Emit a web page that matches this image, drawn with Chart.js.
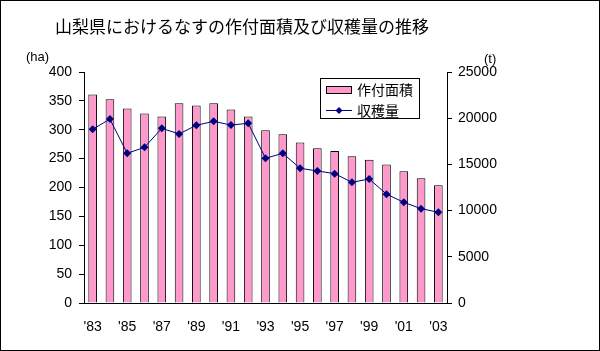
<!DOCTYPE html>
<html lang="ja">
<head>
<meta charset="UTF-8">
<title>山梨県におけるなすの作付面積及び収穫量の推移</title>
<script src="https://cdn.jsdelivr.net/npm/chart.js"></script>
<style>
  html, body { margin: 0; padding: 0; background: #fff; }
</style>
</head>
<body>
<canvas id="chart" width="600" height="351"></canvas>
<script>
// data
const years = ["'83", "'84", "'85", "'86", "'87", "'88", "'89", "'90", "'91", "'92", "'93",
               "'94", "'95", "'96", "'97", "'98", "'99", "'00", "'01", "'02", "'03"];
const area = [361, 353, 337, 328, 323, 346, 342, 346, 335, 323, 299,
              292, 278, 268, 263, 254, 248, 240, 228, 216, 204];      // 作付面積 (ha)
const harvest = [18800, 19900, 16200, 16850, 18900, 18300, 19230, 19660, 19260, 19450, 15660,
                 16200, 14580, 14290, 14000, 13060, 13420, 11780, 10900, 10210, 9820]; // 収穫量 (t)

const TITLE = '山梨県におけるなすの作付面積及び収穫量の推移';
const JP = '"Noto Sans CJK JP", sans-serif';
const NUM = '"Liberation Sans", Arial, sans-serif';

// title, unit labels, legend and frame
const decor = {
    id: 'decor',
    beforeDraw(chart) {
        const ctx = chart.ctx;
        ctx.save();
        ctx.fillStyle = '#fff';
        ctx.fillRect(0, 0, chart.width, chart.height);
        ctx.restore();
    },
    afterDraw(chart) {
        const ctx = chart.ctx;
        ctx.save();
        ctx.fillStyle = '#000';
        ctx.textBaseline = 'middle';
        ctx.font = '17px ' + JP;
        ctx.textAlign = 'left';
        ctx.fillText(TITLE, 55, 27);

        ctx.font = '13px ' + NUM;
        ctx.fillText('(ha)', 26, 57);
        ctx.fillText('(t)', 484, 59);

        // legend
        ctx.strokeStyle = '#000';
        ctx.lineWidth = 1;
        ctx.strokeRect(320.5, 78.5, 99, 40);
        ctx.fillStyle = '#FF99CC';
        ctx.fillRect(326.5, 86.5, 25, 7);
        ctx.strokeRect(326.5, 86.5, 25, 7);
        ctx.strokeStyle = '#000080';
        ctx.beginPath();
        ctx.moveTo(326, 110.5);
        ctx.lineTo(352, 110.5);
        ctx.stroke();
        ctx.fillStyle = '#000080';
        ctx.beginPath();
        ctx.moveTo(339, 107);
        ctx.lineTo(342.5, 110.5);
        ctx.lineTo(339, 114);
        ctx.lineTo(335.5, 110.5);
        ctx.closePath();
        ctx.fill();
        ctx.fillStyle = '#000';
        ctx.font = '14px ' + JP;
        ctx.fillText('作付面積', 357, 90);
        ctx.fillText('収穫量', 357, 111);

        // outer frame
        ctx.strokeStyle = '#000';
        ctx.strokeRect(0.5, 0.5, chart.width - 1, chart.height - 1);
        ctx.restore();
    }
};

new Chart(document.getElementById('chart'), {
    data: {
        labels: years,
        datasets: [{
            type: 'bar',
            label: '作付面積',
            data: area,
            yAxisID: 'y',
            backgroundColor: '#FF99CC',
            borderColor: '#000',
            borderWidth: 1,
            categoryPercentage: 1,
            barPercentage: 0.5,
            order: 2
        }, {
            type: 'line',
            label: '収穫量',
            data: harvest,
            yAxisID: 'y1',
            borderColor: '#000080',
            borderWidth: 1,
            backgroundColor: '#000080',
            pointStyle: 'rectRot',
            pointRadius: 4,
            pointBorderWidth: 0,
            tension: 0,
            order: 1
        }]
    },
    options: {
        responsive: false,
        animation: false,
        devicePixelRatio: 1,
        layout: { padding: { top: 72, left: 0, right: 0, bottom: 0 } },
        plugins: {
            legend: { display: false },
            title: { display: false },
            tooltip: { enabled: false }
        },
        scales: {
            x: {
                grid: { display: false },
                border: { color: '#000' },
                ticks: {
                    autoSkip: false,
                    maxRotation: 0,
                    padding: 8,
                    color: '#000',
                    font: { family: NUM, size: 14 },
                    callback: function(value, index) {
                        return index % 2 === 0 ? this.getLabelForValue(value) : '';
                    }
                },
                afterFit(scale) { scale.height = 48; }
            },
            y: {
                position: 'left',
                min: 0,
                max: 400,
                grid: { drawOnChartArea: false, drawTicks: true, tickLength: 5, color: '#000' },
                border: { color: '#000' },
                ticks: {
                    stepSize: 50,
                    padding: 7,
                    color: '#000',
                    font: { family: NUM, size: 14 }
                },
                afterFit(scale) { scale.width = 84; }
            },
            y1: {
                position: 'right',
                min: 0,
                max: 25000,
                grid: { drawOnChartArea: false, drawTicks: true, tickLength: 5, color: '#000' },
                border: { color: '#000' },
                ticks: {
                    stepSize: 5000,
                    padding: 6,
                    color: '#000',
                    font: { family: NUM, size: 14 },
                    callback: value => String(value)
                },
                afterFit(scale) { scale.width = 153; }
            }
        }
    },
    plugins: [decor]
});
</script>
</body>
</html>
